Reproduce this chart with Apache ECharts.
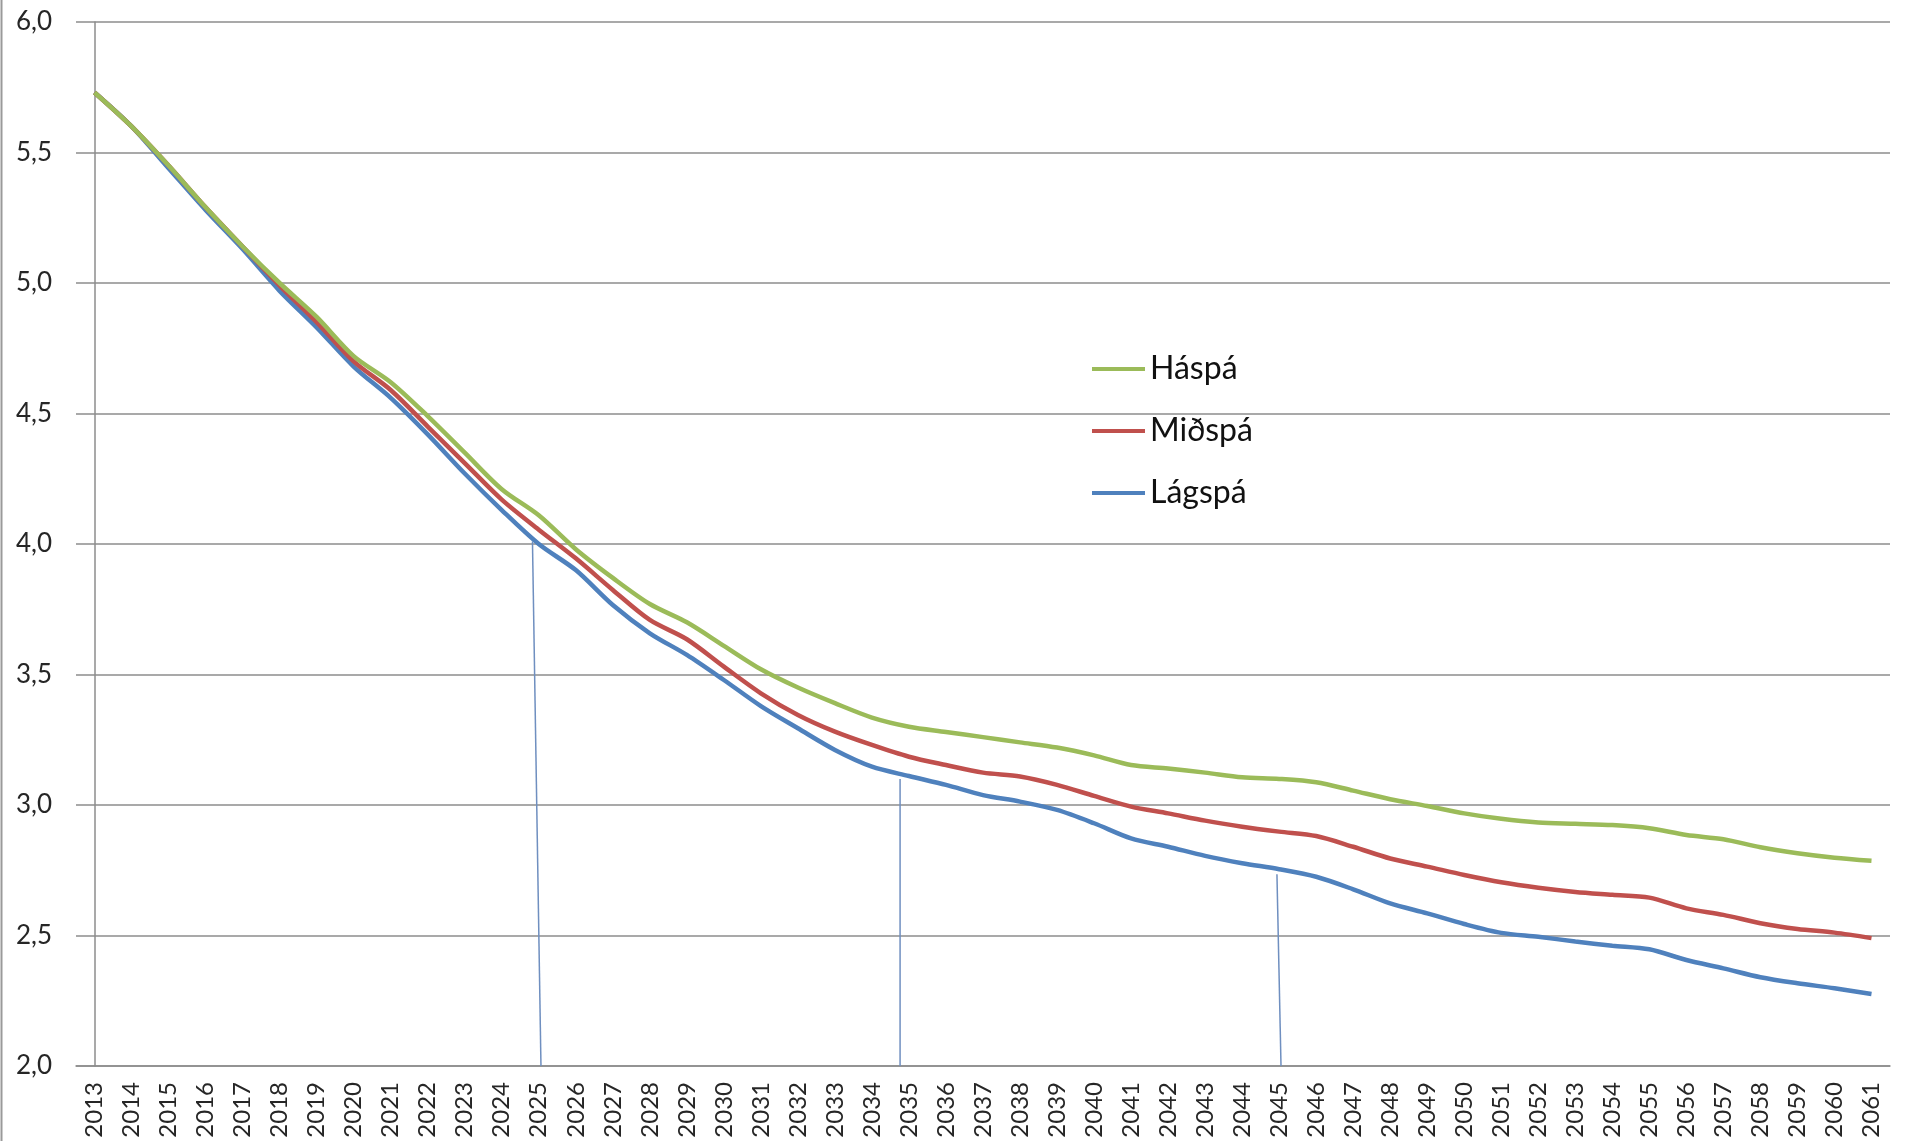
<!DOCTYPE html>
<html>
<head>
<meta charset="utf-8">
<script src="https://cdn.jsdelivr.net/npm/echarts@6/dist/echarts.min.js"></script>
<style>
html,body{margin:0;padding:0;background:#fff;}
#chart{width:1915px;height:1141px;}
</style>
</head>
<body>
<div id="chart"></div>
<script>
const years = ['2013','2014','2015','2016','2017','2018','2019','2020','2021','2022','2023','2024','2025','2026','2027','2028','2029','2030','2031','2032','2033','2034','2035','2036','2037','2038','2039','2040','2041','2042','2043','2044','2045','2046','2047','2048','2049','2050','2051','2052','2053','2054','2055','2056','2057','2058','2059','2060','2061'];

const haspa = [5.73,5.60,5.45,5.29,5.14,5.00,4.87,4.72,4.62,4.49,4.35,4.21,4.11,3.98,3.87,3.77,3.70,3.61,3.52,3.45,3.39,3.335,3.30,3.28,3.26,3.24,3.22,3.19,3.153,3.14,3.124,3.106,3.10,3.087,3.055,3.022,2.996,2.968,2.947,2.933,2.928,2.923,2.911,2.885,2.869,2.838,2.815,2.798,2.786];

const midspa = [5.73,5.60,5.45,5.29,5.14,4.99,4.85,4.70,4.59,4.45,4.31,4.17,4.055,3.945,3.824,3.709,3.635,3.53,3.428,3.345,3.281,3.23,3.185,3.153,3.124,3.109,3.077,3.035,2.994,2.968,2.94,2.917,2.898,2.881,2.84,2.795,2.764,2.732,2.704,2.683,2.667,2.656,2.645,2.604,2.579,2.547,2.525,2.511,2.49];

const lagspa = [5.73,5.60,5.44,5.28,5.13,4.97,4.83,4.68,4.56,4.42,4.27,4.13,4.00,3.90,3.766,3.658,3.575,3.479,3.379,3.294,3.211,3.147,3.111,3.077,3.038,3.013,2.981,2.93,2.872,2.84,2.805,2.777,2.754,2.725,2.677,2.623,2.585,2.544,2.51,2.495,2.477,2.461,2.447,2.406,2.374,2.34,2.317,2.298,2.276];

const seriesNames = ['Háspá','Miðspá','Lágspá'];

// hand-drawn drop lines (category index, value) -> (category index, value)
const dropLines = [
  [[11.83, 4.01], [12.06, 2.0]],
  [[21.76, 3.10], [21.76, 2.0]],
  [[31.94, 2.735], [32.05, 2.0]]
];

const yTicks = {min: 2, max: 6, interval: 0.5};

const colors = ['#9BBB59', '#C0504D', '#4F81BD'];
const font = 'Lato, "Open Sans", sans-serif';

const chart = echarts.init(document.getElementById('chart'), null, {renderer: 'canvas'});

const lineSeries = [haspa, midspa, lagspa].map((d, i) => ({
  name: seriesNames[i],
  type: 'line',
  xAxisIndex: 0,
  yAxisIndex: 0,
  data: d,
  symbol: 'none',
  smooth: 0.3,
  lineStyle: {width: 4.5, color: colors[i]},
  itemStyle: {color: colors[i]},
  z: 3 + (2 - i)
}));

const dropSeries = dropLines.map((seg) => ({
  type: 'line',
  xAxisIndex: 1,
  yAxisIndex: 0,
  data: seg,
  symbol: 'none',
  silent: true,
  lineStyle: {width: 1.5, color: '#6F8FC0'},
  z: 2
}));

chart.setOption({
  backgroundColor: '#ffffff',
  animation: false,
  grid: {left: 76, right: 25, top: 22, bottom: 75, containLabel: false, outerBoundsMode: 'none'},
  legend: {
    data: seriesNames,
    orient: 'vertical',
    left: 1092,
    top: 351,
    icon: 'rect',
    itemWidth: 53,
    itemHeight: 4,
    itemGap: 26,
    padding: 0,
    textStyle: {fontFamily: font, fontSize: 32, color: '#111', lineHeight: 36}
  },
  xAxis: [{
    type: 'category',
    data: years,
    boundaryGap: true,
    axisLine: {show: true, lineStyle: {color: '#8c8c8c', width: 1.5}},
    axisTick: {show: false},
    splitLine: {show: false},
    axisLabel: {rotate: 90, interval: 0, margin: 16, fontFamily: font, fontSize: 24, color: '#262626'}
  }, {
    type: 'value',
    min: -0.5,
    max: 48.5,
    show: false,
    position: 'bottom'
  }],
  yAxis: {
    type: 'value',
    min: yTicks.min,
    max: yTicks.max,
    interval: yTicks.interval,
    axisLine: {show: true, lineStyle: {color: '#8c8c8c', width: 1.5}},
    axisTick: {show: false},
    splitLine: {show: true, lineStyle: {color: '#8c8c8c', width: 1.5}},
    axisLabel: {
      margin: 24,
      fontFamily: font,
      fontSize: 26,
      color: '#262626',
      formatter: (v) => v.toFixed(1).replace('.', ',')
    }
  },
  graphic: [{
    type: 'line',
    shape: {x1: 1.5, y1: 0, x2: 1.5, y2: 1141},
    style: {stroke: '#9a9a9a', lineWidth: 2},
    silent: true
  }],
  series: lineSeries.concat(dropSeries)
});
</script>
</body>
</html>
